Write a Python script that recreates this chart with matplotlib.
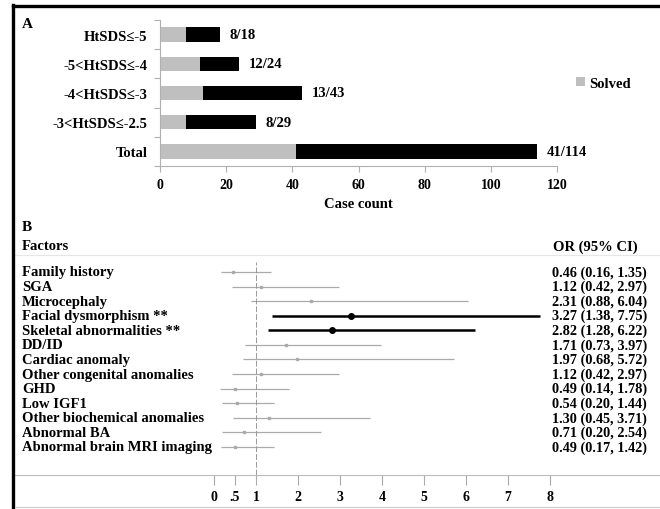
import matplotlib
matplotlib.use("Agg")
import matplotlib.pyplot as plt
from matplotlib.lines import Line2D
import matplotlib.transforms as mtrans

plt.rcParams['font.family'] = ['Liberation Serif', 'DejaVu Serif']
plt.rcParams['font.weight'] = 'bold'

# ---------------- Data ----------------
groups = ["HtSDS≤-5", "-5<HtSDS≤-4", "-4<HtSDS≤-3", "-3<HtSDS≤-2.5", "Total"]
solved = [8, 12, 13, 8, 41]
total = [18, 24, 43, 29, 114]
unsolved = [t - s for t, s in zip(total, solved)]
ratio_labels = [f"{s}/{t}" for s, t in zip(solved, total)]

factors = ["Family history", "SGA", "Microcephaly", "Facial dysmorphism **",
           "Skeletal abnormalities **", "DD/ID", "Cardiac anomaly",
           "Other congenital anomalies", "GHD", "Low IGF1",
           "Other biochemical anomalies", "Abnormal BA",
           "Abnormal brain MRI imaging"]
odds = [0.46, 1.12, 2.31, 3.27, 2.82, 1.71, 1.97, 1.12, 0.49, 0.54, 1.30, 0.71, 0.49]
ci_low = [0.16, 0.42, 0.88, 1.38, 1.28, 0.73, 0.68, 0.42, 0.14, 0.20, 0.45, 0.20, 0.17]
ci_high = [1.35, 2.97, 6.04, 7.75, 6.22, 3.97, 5.72, 2.97, 1.78, 1.44, 3.71, 2.54, 1.42]
significant = [False, False, False, True, True, False, False, False, False, False, False, False, False]
or_ticks = [0, 0.5, 1, 2, 3, 4, 5, 6, 7, 8]
or_tick_labels = ["0", ".5", "1", "2", "3", "4", "5", "6", "7", "8"]

W, H = 660, 510
fig = plt.figure(figsize=(W / 100, H / 100), dpi=100)

def fx(px):
    return px / W

def fy(py):
    return 1 - py / H

GRAY_BAR = "#bfbfbf"
AX_GRAY = "#b0b0b0"

# ---------------- Panel A ----------------
axA = fig.add_axes([fx(160), fy(167), fx(557) - fx(160), fy(21) - fy(167)])
ypos = list(range(len(groups)))
b1 = axA.barh(ypos, solved, height=0.5, color=GRAY_BAR, label="Solved")
b2 = axA.barh(ypos, unsolved, left=solved, height=0.5, color="black")
axA.set_xlim(0, 120)
axA.set_ylim(len(groups) - 0.5, -0.5)
axA.set_xticks(range(0, 121, 20))
axA.set_yticks(ypos)
axA.set_yticklabels(groups, fontsize=10.5, fontweight='bold')
axA.tick_params(axis='y', length=0, pad=9)
axA.set_yticks([i - 0.5 for i in range(len(groups) + 1)], minor=True)
axA.tick_params(axis='y', which='minor', length=4, color=AX_GRAY, width=0.8)
axA.tick_params(axis='x', length=4, color=AX_GRAY, width=0.8, labelsize=10, pad=5)
for lab in axA.get_xticklabels():
    lab.set_fontweight('bold')
for s in ['top', 'right']:
    axA.spines[s].set_visible(False)
for s in ['left', 'bottom']:
    axA.spines[s].set_color(AX_GRAY)
    axA.spines[s].set_linewidth(0.8)
axA.set_xlabel("Case count", fontsize=10.5, fontweight='bold', labelpad=4)
for i, (t, lab) in enumerate(zip(total, ratio_labels)):
    axA.annotate(lab, (t, i), xytext=(7, 0), textcoords='offset points',
                 va='center', ha='left', fontsize=10.5, fontweight='bold')
axA.legend(handles=[b1], labels=["Solved"], frameon=False, loc='center left',
           bbox_to_anchor=(fx(563), fy(84)), bbox_transform=fig.transFigure,
           handlelength=0.6, handleheight=0.6, handletextpad=0.3,
           prop={'size': 10.5, 'weight': 'bold'})

fig.text(fx(22), fy(25), "A", fontsize=11, fontweight='bold', va='center', ha='left')

# ---------------- Panel B ----------------
x0px, unit = 214, 42.0
axB = fig.add_axes([fx(15), fy(476), 1 - fx(15), fy(256) - fy(476)])
axB.set_xlim((15 - x0px) / unit, (660 - x0px) / unit)
row0, step = 273, 14.58
axB.set_ylim((476 - row0) / step, (256 - row0) / step)

rows = list(range(len(factors)))
for i in rows:
    if significant[i]:
        axB.plot([ci_low[i], ci_high[i]], [i, i], color='black', lw=1.8, solid_capstyle='butt')
        axB.plot(odds[i], i, 'o', color='black', ms=4)
    else:
        axB.plot([ci_low[i], ci_high[i]], [i, i], color='#aaaaaa', lw=0.9, solid_capstyle='butt')
        axB.plot(odds[i], i, 's', color='#aaaaaa', ms=1.6)
axB.axvline(1, ymin=0, ymax=1 - ((263 - 256) / (476 - 256)), color='#999999', lw=0.7,
            linestyle=(0, (6, 2)))

axB.set_yticks([])
axB.set_xticks(or_ticks)
axB.set_xticklabels(or_tick_labels, fontsize=10, fontweight='bold')
axB.tick_params(axis='x', length=7, color='#aaaaaa', width=0.8, pad=4)
for s in ['left', 'right']:
    axB.spines[s].set_visible(False)
axB.spines['top'].set_color('#e6e6e6')
axB.spines['top'].set_linewidth(0.8)
axB.spines['bottom'].set_color('#bbbbbb')
axB.spines['bottom'].set_linewidth(0.8)

trB = mtrans.blended_transform_factory(fig.transFigure, axB.transData)
for i in rows:
    axB.text(fx(22), i, factors[i], transform=trB, ha='left', va='center',
             fontsize=10.5, fontweight='bold')
    axB.text(fx(647), i, f"{odds[i]:.2f} ({ci_low[i]:.2f}, {ci_high[i]:.2f})",
             transform=trB, ha='right', va='center', fontsize=10.3, fontweight='bold')

fig.text(fx(22), fy(228), "B", fontsize=11, fontweight='bold', va='center', ha='left')
fig.text(fx(22), fy(247), "Factors", fontsize=10.5, fontweight='bold', va='center', ha='left')
fig.text(fx(638), fy(247), "OR (95% CI)", fontsize=10.5, fontweight='bold', va='center', ha='right')

# frame lines
fig.add_artist(Line2D([fx(13), 1], [fy(7), fy(7)], transform=fig.transFigure,
                      color='black', lw=2.4))
fig.add_artist(Line2D([fx(13), fx(13)], [fy(6), 0], transform=fig.transFigure,
                      color='black', lw=2.4))
fig.add_artist(Line2D([fx(15), 1], [fy(508), fy(508)], transform=fig.transFigure,
                      color='#cccccc', lw=0.8))

fig.savefig("out.png", dpi=100)
